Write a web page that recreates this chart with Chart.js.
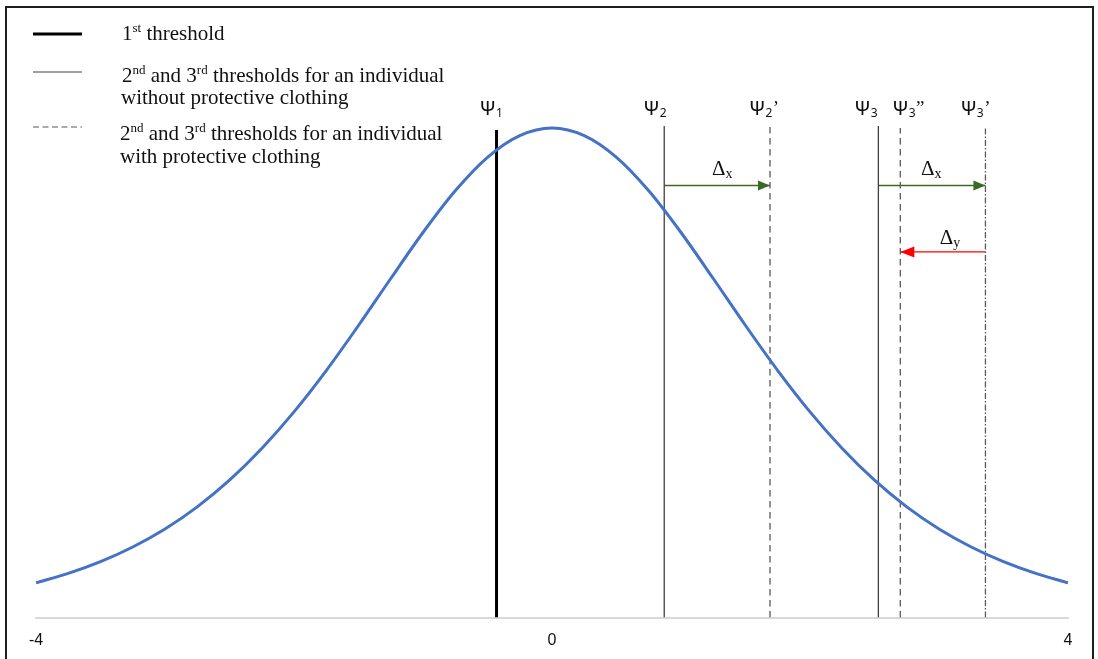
<!DOCTYPE html>
<html>
<head>
<meta charset="utf-8">
<script src="https://cdn.jsdelivr.net/npm/chart.js@4.4.1/dist/chart.umd.min.js"></script>
<style>
  html, body { margin: 0; padding: 0; background: #fff; }
  canvas { display: block; }
</style>
</head>
<body>
<canvas id="c" width="1098" height="659"></canvas>
<script>
// Density of the latent comfort variable
const curveX = [-4, -3.75, -3.5, -3.25, -3, -2.75, -2.5, -2.25, -2, -1.75, -1.5, -1.25, -1, -0.75, -0.5, -0.25,
                0, 0.25, 0.5, 0.75, 1, 1.25, 1.5, 1.75, 2, 2.25, 2.5, 2.75, 3, 3.25, 3.5, 3.75, 4];
const curveY = [0.0177, 0.0225, 0.0285, 0.0360, 0.0452, 0.0565, 0.0701, 0.0863, 0.1050, 0.1261, 0.1491, 0.1731,
                0.1966, 0.2179, 0.2350, 0.2461, 0.2500, 0.2461, 0.2350, 0.2179, 0.1966, 0.1731, 0.1491, 0.1261,
                0.1050, 0.0863, 0.0701, 0.0565, 0.0452, 0.0360, 0.0285, 0.0225, 0.0177];

// Thresholds: position on the latent scale and the height of each marker line
const thresholdSub   = ['1', '2', '2', '3', '3', '3'];
const thresholdMark  = ['', '', '\u2019', '', '\u201D', '\u2019'];
const thresholdX     = [-0.43, 0.87, 1.69, 2.53, 2.70, 3.36];
const thresholdTop   = [0.249, 0.251, 0.251, 0.251, 0.250, 0.250];

// Threshold shifts caused by protective clothing
const shiftSub   = ['x', 'x', 'y'];
const shiftFrom  = [0.87, 2.53, 3.36];
const shiftTo    = [1.69, 3.36, 2.70];
const shiftLevel = [0.2206, 0.2206, 0.1867];

const xTicks = [-4, 0, 4];

// Legend entries (rich text runs: sup = superscript)
const legendLines = [
  [[{ t: '1' }, { t: 'st', sup: true }, { t: ' threshold' }]],
  [[{ t: '2' }, { t: 'nd', sup: true }, { t: ' and 3' }, { t: 'rd', sup: true }, { t: ' thresholds for an individual' }],
   [{ t: 'without protective clothing' }]],
  [[{ t: '2' }, { t: 'nd', sup: true }, { t: ' and 3' }, { t: 'rd', sup: true }, { t: ' thresholds for an individual' }],
   [{ t: 'with protective clothing' }]]
];

// ---- styling ----
const thresholdColor = ['#000000', '#404040', '#595959', '#404040', '#595959', '#595959'];
const thresholdWidth = [3, 1.3, 1.3, 1.3, 1.3, 1.3];
const thresholdDash  = [[], [], [6.5, 4.5], [], [6.5, 4.5], [6, 2, 1.5, 2]];
const thresholdLabelDx = [-17, -21, -21, -24, -8, -25];
const shiftColor = ['#3a6b22', '#3a6b22', '#ff0000'];
const shiftHead  = [[12, 5], [12, 5], [14, 5.5]];
const shiftLabelDx = [-5, -11, -3];
const shiftLabelDy = [-10.5, -10.5, -8];

const legendSample = [
  { y: 34, color: '#000000', width: 3, dash: [] },
  { y: 72, color: '#404040', width: 1.2, dash: [] },
  { y: 127, color: '#595959', width: 1.2, dash: [6, 3.5] }
];
const legendTextX = [[122], [122, 121], [120, 120]];
const legendBaseline = [[40], [82, 104], [140, 163]];

const SERIF = '"Liberation Serif", "Times New Roman", serif';
const SANS = '"Noto Sans", "DejaVu Sans", sans-serif';

const datasets = [];
datasets.push({
  data: curveX.map((x, i) => ({ x, y: curveY[i] })),
  borderColor: '#4472c4',
  borderWidth: 3,
  pointRadius: 0,
  cubicInterpolationMode: 'monotone',
  fill: false
});
thresholdX.forEach((x, i) => {
  datasets.push({
    data: [{ x, y: 0 }, { x, y: thresholdTop[i] }],
    borderColor: thresholdColor[i],
    borderWidth: thresholdWidth[i],
    borderDash: thresholdDash[i],
    borderCapStyle: 'butt',
    pointRadius: 0,
    fill: false
  });
});
const shiftIndex = [];
shiftFrom.forEach((x0, i) => {
  shiftIndex.push(datasets.length);
  datasets.push({
    data: [{ x: x0, y: shiftLevel[i] }, { x: shiftTo[i], y: shiftLevel[i] }],
    borderColor: shiftColor[i],
    borderWidth: 1.3,
    pointRadius: 0,
    fill: false
  });
});

function drawRuns(ctx, x, baseline, runs, size, supSize, family) {
  let cx = x;
  runs.forEach(r => {
    const s = r.sup ? supSize : size;
    ctx.font = s + 'px ' + family;
    ctx.fillText(r.t, cx, baseline - (r.sup ? size * 0.36 : 0));
    cx += ctx.measureText(r.t).width;
  });
}

const overlay = {
  id: 'overlay',
  afterDatasetsDraw(chart) {
    const ctx = chart.ctx;
    const xs = chart.scales.x;
    ctx.save();

    // arrow heads on the shift segments
    shiftIndex.forEach((di, i) => {
      const pts = chart.getDatasetMeta(di).data;
      const a = pts[0], b = pts[1];
      const dir = b.x >= a.x ? 1 : -1;
      const [len, half] = shiftHead[i];
      ctx.fillStyle = shiftColor[i];
      ctx.beginPath();
      ctx.moveTo(b.x, b.y);
      ctx.lineTo(b.x - dir * len, b.y - half);
      ctx.lineTo(b.x - dir * len, b.y + half);
      ctx.closePath();
      ctx.fill();

      // shift label
      const mid = (a.x + b.x) / 2 + shiftLabelDx[i];
      const base = b.y + shiftLabelDy[i];
      ctx.fillStyle = '#111';
      ctx.textBaseline = 'alphabetic';
      ctx.textAlign = 'left';
      ctx.font = '21px ' + SERIF;
      ctx.fillText('\u0394', mid, base);
      const w = ctx.measureText('\u0394').width;
      ctx.font = '14px ' + SERIF;
      ctx.fillText(shiftSub[i], mid + w, base + 3);
    });

    // threshold labels
    thresholdX.forEach((x, i) => {
      const px = xs.getPixelForValue(x) + thresholdLabelDx[i];
      const base = 115;
      ctx.fillStyle = '#111';
      ctx.textAlign = 'left';
      ctx.textBaseline = 'alphabetic';
      ctx.font = '20px ' + SANS;
      ctx.fillText('\u03A8', px, base);
      let cx = px + ctx.measureText('\u03A8').width;
      ctx.font = '12px ' + SANS;
      ctx.fillText(thresholdSub[i], cx, base + 2);
      cx += ctx.measureText(thresholdSub[i]).width;
      if (thresholdMark[i]) {
        ctx.font = '19px ' + SERIF;
        ctx.fillText(thresholdMark[i], cx + 0.5, base - 1);
      }
    });

    // legend
    legendSample.forEach((s, i) => {
      ctx.strokeStyle = s.color;
      ctx.lineWidth = s.width;
      ctx.setLineDash(s.dash);
      ctx.beginPath();
      ctx.moveTo(33, s.y);
      ctx.lineTo(82, s.y);
      ctx.stroke();
      ctx.setLineDash([]);
      ctx.fillStyle = '#111';
      ctx.textAlign = 'left';
      ctx.textBaseline = 'alphabetic';
      legendLines[i].forEach((runs, j) => {
        drawRuns(ctx, legendTextX[i][j], legendBaseline[i][j], runs, 21, 13, SERIF);
      });
    });

    // outer frame
    ctx.strokeStyle = '#1e1e1e';
    ctx.lineWidth = 2;
    ctx.strokeRect(6, 7, 1087, 700);
    ctx.restore();
  }
};

new Chart(document.getElementById('c'), {
  type: 'line',
  data: { datasets },
  options: {
    responsive: false,
    animation: false,
    events: [],
    layout: { padding: { left: 36, right: 30, top: 30, bottom: 0 } },
    plugins: { legend: { display: false }, tooltip: { enabled: false } },
    scales: {
      x: {
        type: 'linear',
        min: -4,
        max: 4,
        afterBuildTicks(scale) { scale.ticks = xTicks.map(v => ({ value: v })); },
        afterFit(scale) { scale.height = 41.5; },
        grid: { display: false, drawTicks: false },
        border: { display: true, color: '#d9d9d9', width: 2 },
        ticks: {
          padding: 13,
          color: '#111',
          maxRotation: 0,
          autoSkip: false,
          font: { family: '"Liberation Sans", Arial, sans-serif', size: 16 }
        }
      },
      y: {
        type: 'linear',
        min: 0,
        max: 0.3,
        display: false
      }
    }
  },
  plugins: [overlay]
});
</script>
</body>
</html>
